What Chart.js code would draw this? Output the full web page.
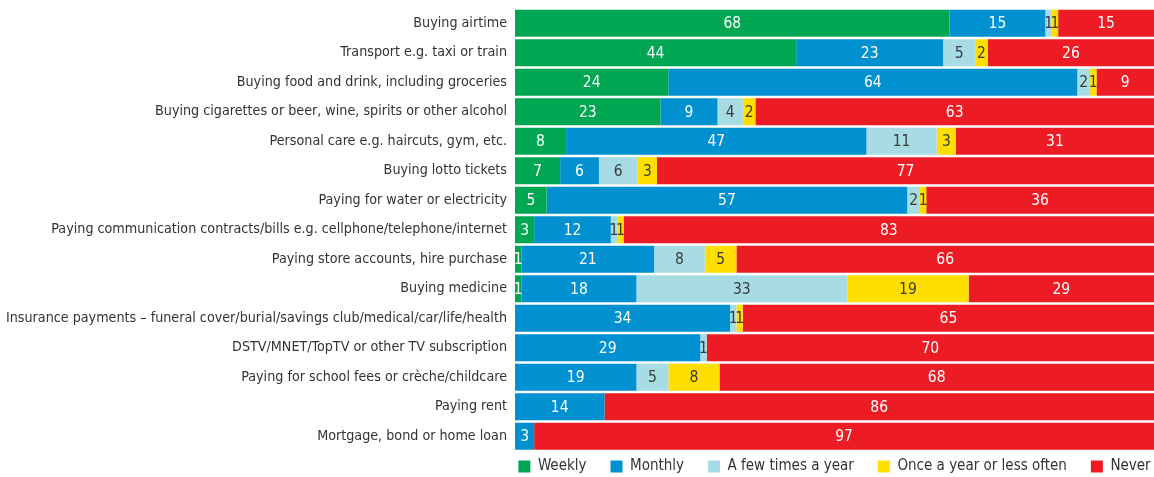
<!DOCTYPE html>
<html>
<head>
<meta charset="utf-8">
<script src="https://cdn.jsdelivr.net/npm/chart.js@4.4.1/dist/chart.umd.min.js"></script>
<style>
  html, body { margin: 0; padding: 0; background: #fff; }
  #wrap { width: 1154px; height: 477px; }
</style>
</head>
<body>
<div id="wrap"><canvas id="chart" width="1154" height="477"></canvas></div>
<script>
// Kategoriler (yukarıdan aşağıya)
const categories = [
  "Buying airtime",
  "Transport e.g. taxi or train",
  "Buying food and drink, including groceries",
  "Buying cigarettes or beer, wine, spirits or other alcohol",
  "Personal care e.g. haircuts, gym, etc.",
  "Buying lotto tickets",
  "Paying for water or electricity",
  "Paying communication contracts/bills e.g. cellphone/telephone/internet",
  "Paying store accounts, hire purchase",
  "Buying medicine",
  "Insurance payments \u2013 funeral cover/burial/savings club/medical/car/life/health",
  "DSTV/MNET/TopTV or other TV subscription",
  "Paying for school fees or cr\u00e8che/childcare",
  "Paying rent",
  "Mortgage, bond or home loan"
];

const seriesNames = ["Weekly", "Monthly", "A few times a year", "Once a year or less often", "Never"];

const weekly    = [68, 44, 24, 23,  8,  7,  5,  3,  1,  1,  0,  0,  0,  0,  0];
const monthly   = [15, 23, 64,  9, 47,  6, 57, 12, 21, 18, 34, 29, 19, 14,  3];
const fewTimes  = [ 1,  5,  2,  4, 11,  6,  2,  1,  8, 33,  1,  1,  5,  0,  0];
const onceYear  = [ 1,  2,  1,  2,  3,  3,  1,  1,  5, 19,  1,  0,  8,  0,  0];
const never     = [15, 26,  9, 63, 31, 77, 36, 83, 66, 29, 65, 70, 68, 86, 97];

const seriesValues = [weekly, monthly, fewTimes, onceYear, never];
const barColors = ["#00A651", "#0191D1", "#A8DCE4", "#FFDE00", "#ED1C24"];
const labelColors = ["#ffffff", "#ffffff", "#3a3a3a", "#3a3a3a", "#ffffff"];

const FONT = "'DejaVu Sans Condensed', 'Liberation Sans Narrow', sans-serif";
const LEGEND_GAP = 24;
const LEGEND_EXTRA = 60;

// satır toplamları (çubuklar 100'e göre ölçekleniyor)
const rowTotals = categories.map((c, i) => seriesValues.reduce((s, arr) => s + arr[i], 0));

const datasets = seriesValues.map((arr, k) => ({
  label: seriesNames[k],
  data: arr.map((v, i) => v * 100 / rowTotals[i]),
  raw: arr,
  backgroundColor: barColors[k],
  borderWidth: 0,
  barPercentage: 0.92,
  categoryPercentage: 1.0
}));

// Değer etiketleri
const valueLabels = {
  id: 'valueLabels',
  afterDatasetsDraw(chart) {
    const ctx = chart.ctx;
    ctx.save();
    ctx.font = "15.5px " + FONT;
    ctx.textAlign = 'center';
    ctx.textBaseline = 'middle';
    chart.data.datasets.forEach((ds, k) => {
      const meta = chart.getDatasetMeta(k);
      meta.data.forEach((bar, i) => {
        const v = ds.raw[i];
        if (!v) return;
        const cx = (bar.x + bar.base) / 2;
        ctx.fillStyle = labelColors[k];
        ctx.fillText(String(v), cx, bar.y + 1);
      });
    });
    ctx.restore();
  }
};

// Lejant: tek satır, geniş aralık, dar yükseklik
const compactLegend = {
  id: 'compactLegend',
  beforeLayout(chart) {
    const lg = chart.legend;
    if (!lg || lg._compact) return;
    const fit = lg.fit, innerDraw = lg._draw;
    lg.fit = function() {
      const mw = this.maxWidth;
      this.maxWidth = mw + LEGEND_EXTRA;
      fit.call(this);
      this.maxWidth = mw;
      this.width = Math.min(this.width, mw);
      this.height = 26;
    };
    lg._draw = function() {
      const ctx = this.ctx;
      const r = this.right;
      this.right = r + LEGEND_EXTRA;
      ctx.save();
      ctx.translate(-LEGEND_EXTRA / 2, -(LEGEND_GAP - 8));
      innerDraw.call(this);
      ctx.restore();
      this.right = r;
    };
    lg._compact = true;
  }
};

new Chart(document.getElementById('chart'), {
  type: 'bar',
  data: { labels: categories, datasets: datasets },
  options: {
    indexAxis: 'y',
    responsive: false,
    animation: false,
    layout: { padding: { top: -3, right: 0, left: 6, bottom: 0 } },
    scales: {
      x: {
        stacked: true, min: 0, max: 100, display: false
      },
      y: {
        stacked: true,
        grid: { display: false },
        border: { display: false },
        ticks: { color: '#333', padding: 0, autoSkip: false, font: { family: FONT, size: 14.2 } }
      }
    },
    plugins: {
      tooltip: { enabled: false },
      legend: {
        position: 'bottom',
        fullSize: false,
        labels: {
          color: '#333',
          boxWidth: 12, boxHeight: 12, padding: LEGEND_GAP,
          font: { family: FONT, size: 15 }
        }
      }
    }
  },
  plugins: [compactLegend, valueLabels]
});
</script>
</body>
</html>
